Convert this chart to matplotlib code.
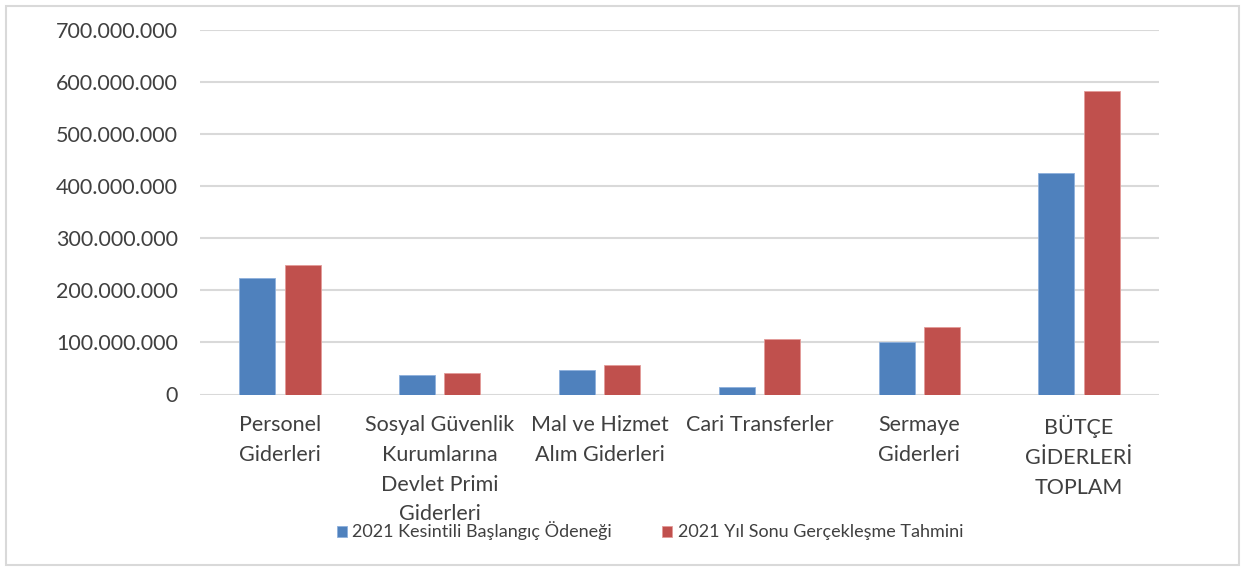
import numpy as np
import matplotlib.pyplot as plt
from matplotlib.patches import Rectangle
from matplotlib.ticker import FuncFormatter

plt.rcParams['font.family'] = ['Lato', 'DejaVu Sans']

categories = ["Personel\nGiderleri",
              "Sosyal Güvenlik\nKurumlarına\nDevlet Primi\nGiderleri",
              "Mal ve Hizmet\nAlım Giderleri",
              "Cari Transferler",
              "Sermaye\nGiderleri",
              "BÜTÇE\nGİDERLERİ\nTOPLAM"]
baslangic = [224e6, 37e6, 47e6, 13.5e6, 100.5e6, 424e6]
tahmin = [248e6, 41e6, 56.5e6, 107e6, 129e6, 583e6]
series_names = ["2021 Kesintili Başlangıç Ödeneği", "2021 Yıl Sonu Gerçekleşme Tahmini"]

text_col = '#404040'

fig = plt.figure(figsize=(12.55, 5.67), dpi=100)
ax = fig.add_axes([200/1255, 172.5/567, 959/1255, 365/567])

x = np.arange(len(categories))
w = 0.225
ax.bar(x - 0.142, baslangic, w, color='#4F81BD', edgecolor='#8EB0DC', linewidth=0.6,
       label=series_names[0], zorder=3)
ax.bar(x + 0.142, tahmin, w, color='#C0504D', edgecolor='#E39A98', linewidth=0.6,
       label=series_names[1], zorder=3)

ax.set_xlim(-0.5, len(categories) - 0.5)
ax.set_ylim(0, 700e6)
ax.set_yticks(np.arange(0, 700e6 + 1, 100e6))
ax.yaxis.set_major_formatter(FuncFormatter(lambda v, p: f"{int(v):,}".replace(',', '.')))
ax.yaxis.grid(True, color='#D9D9D9', linewidth=1.5, zorder=0)
ax.set_axisbelow(True)
for s in ax.spines.values():
    s.set_visible(False)

ax.set_xticks(x)
ax.set_xticklabels(categories, linespacing=1.6, va='top')
ax.tick_params(axis='y', length=0, pad=16, labelsize=15.5, labelcolor=text_col)
ax.tick_params(axis='x', length=0, pad=15, labelsize=15.5, labelcolor=text_col)

fig.legend(loc='center', bbox_to_anchor=(650/1255, 1 - 531/567), ncol=2,
           frameon=False, fontsize=13, handlelength=0.55, handleheight=0.55,
           handletextpad=0.3, columnspacing=2.8, labelcolor=text_col)

fig.patches.append(Rectangle((6/1255, 2/567), 1233/1255, 559/567, transform=fig.transFigure,
                             fill=False, edgecolor='#D9D9D9', linewidth=1.5))

fig.savefig('out.png', dpi=100)
